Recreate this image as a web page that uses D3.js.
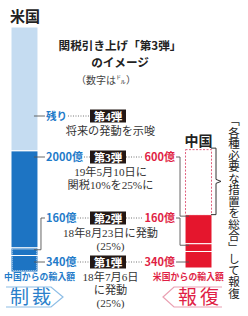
<!DOCTYPE html>
<html>
<head>
<meta charset="utf-8">
<script src="https://cdn.jsdelivr.net/npm/d3@7"></script>
<style>
body { margin: 0; background: #fff; }
text { font-family: "Noto Sans CJK JP", sans-serif; }
.serif { font-family: "Liberation Serif", "Noto Sans CJK JP", serif; }
</style>
</head>
<body>
<div id="chart"></div>
<script>
// values in 億ドル, bottom to top
let stages = ["第1弾", "第2弾", "第3弾", "第4弾"];
let usValues = [340, 160, 2000, 2550];
let cnValues = [340, 160, 600, 1350];
let usLabels = ["340億", "160億", "2000億", "残り"];
let cnLabels = ["340億", "160億", "600億"];
let notes = [
  ["18年7月6日", "に発動", "(25%)"],
  ["18年8月23日に発動", "(25%)"],
  ["19年5月10日に", "関税10%を25%に"],
  ["将来の発動を示唆"]
];
let titleLines = ["関税引き上げ「第3弾」", "のイメージ"];
let columns = ["米国", "説明", "中国"];

let svgWidth = 248;
let svgHeight = 316;
let blue = "#1d74c3", lightBlue = "#c5dcf1", red = "#e5162d";
let blueText = "#1f7bc9", redText = "#e01f45";

let svg = d3.select("#chart")
  .append("svg")
  .attr("width", svgWidth)
  .attr("height", svgHeight);

// one band per column, middle band holds the stage notes
let xBandScale = d3.scaleBand()
  .domain(columns)
  .range([11, 212])
  .paddingInner(0.69)
  .paddingOuter(0);
let bw = xBandScale.bandwidth();
let usY = d3.scaleLinear().domain([0, 5050]).range([272, 27]);
let cnY = usY.copy().range([268, 23]);

// row centre for each stage
let rowY = [262, 218, 157, 116];

function stack(values) {
  let ends = d3.cumsum(values);
  return values.map((v, i) => ({ v: v, i: i, y0: ends[i] - v, y1: ends[i] }));
}
let usSegs = stack(usValues);
let cnSegs = stack(cnValues);

// titles
svg.append("text").attr("x", 10).attr("y", 22)
  .attr("font-size", 15).attr("font-weight", 700).attr("fill", "#222").text("米国");
svg.append("text").attr("x", xBandScale("中国") + bw / 2).attr("y", 146)
  .attr("text-anchor", "middle")
  .attr("font-size", 14).attr("font-weight", 700).attr("fill", "#222").text("中国");
svg.selectAll(".title")
  .data(titleLines)
  .enter()
  .append("text")
  .attr("class", "title")
  .attr("x", 120)
  .attr("y", (d, i) => i == 0 ? 50 : 67)
  .attr("text-anchor", "middle")
  .attr("font-size", 11.6).attr("font-weight", 700).attr("fill", "#222")
  .text(d => d);
svg.append("text").attr("x", 106).attr("y", 84).attr("text-anchor", "middle")
  .attr("font-size", 10).attr("fill", "#444").text("（数字は㌦）");

// us bar
let usX = xBandScale("米国");
svg.selectAll(".us")
  .data(usSegs)
  .enter()
  .append("rect")
  .attr("class", "us")
  .attr("x", usX)
  .attr("width", bw)
  .attr("y", d => usY(d.y1))
  .attr("height", d => usY(d.y0) - usY(d.y1))
  .attr("fill", d => d.i == 3 ? lightBlue : blue)
  .attr("stroke", "#fff")
  .attr("stroke-width", 1);
// dotted inner border on the two rounds already in force
svg.append("rect")
  .attr("x", usX + 1.5).attr("width", bw - 3)
  .attr("y", usY(usSegs[1].y1) + 1.5)
  .attr("height", usY(0) - usY(usSegs[1].y1) - 3)
  .attr("fill", "none").attr("stroke", "rgba(255,255,255,0.85)")
  .attr("stroke-width", 0.8).attr("stroke-dasharray", "1,1");

// china bar
let cnX = xBandScale("中国");
svg.selectAll(".cn")
  .data(cnSegs.slice().reverse())
  .enter()
  .append("rect")
  .attr("class", "cn")
  .attr("x", d => d.i == 3 ? cnX + 0.5 : cnX)
  .attr("width", d => d.i == 3 ? bw - 1 : bw)
  .attr("y", d => cnY(d.y1) + (d.i == 3 ? 0.5 : 0))
  .attr("height", d => cnY(d.y0) - cnY(d.y1))
  .attr("fill", d => d.i == 3 ? "#fff" : red)
  .attr("stroke", d => d.i == 3 ? "#e0607e" : "#fff")
  .attr("stroke-width", 1)
  .attr("stroke-dasharray", d => d.i == 3 ? "2,1.5" : null);

// stage boxes and notes
let boxCx = xBandScale("説明") + bw / 2 - 3.5;
let noteCx = boxCx + 2.5;
stages.forEach((s, i) => {
  svg.append("rect").attr("x", boxCx - 18).attr("y", rowY[i] - 6.5)
    .attr("width", 36).attr("height", 13).attr("fill", "#231815");
  svg.append("text").attr("class", "serif").attr("x", boxCx).attr("y", rowY[i] + 4.5)
    .attr("text-anchor", "middle").attr("font-size", 11.5).attr("font-weight", 700)
    .attr("fill", "#fff").text(s);
  notes[i].forEach((line, j) => {
    svg.append("text").attr("class", "serif").attr("x", noteCx)
      .attr("y", rowY[i] + 19 + j * 13)
      .attr("text-anchor", "middle").attr("font-size", 11.2)
      .attr("fill", "#333").text(line);
  });
});

let leaderColor = "#555";
function dotted(x1, x2, y) {
  svg.append("line").attr("x1", x1).attr("x2", x2).attr("y1", y).attr("y2", y)
    .attr("stroke", "#666").attr("stroke-width", 0.9).attr("stroke-dasharray", "1,1.5");
}

// us labels with leaders
usSegs.forEach((s, i) => {
  let top = usY(s.y1), bottom = usY(s.y0), row = rowY[i];
  let entry = (row >= top && row <= bottom) ? row : top + 2;
  let barRight = usX + bw, elbow = barRight + 3;
  svg.append("path")
    .attr("d", `M${barRight - 4},${entry}H${elbow}V${row}H${barRight + 7}`)
    .attr("fill", "none").attr("stroke", leaderColor).attr("stroke-width", 0.9);
  let t = svg.append("text").attr("x", barRight + 8).attr("y", row + 4)
    .attr("font-size", i == 3 ? 10.5 : 11).attr("font-weight", 700)
    .attr("fill", blueText).text(usLabels[i]);
  let end = barRight + 8 + t.node().getComputedTextLength();
  dotted(end + 1, boxCx - 18, row);
});

// china labels with leaders
cnLabels.forEach((label, i) => {
  let s = cnSegs[i];
  let top = cnY(s.y1), bottom = cnY(s.y0), row = rowY[i];
  let entry = (row >= top && row <= bottom) ? row : top + 1.5;
  let elbow = cnX - 5;
  svg.append("path")
    .attr("d", `M${cnX - 9},${row}H${elbow}V${entry}H${cnX + 4}`)
    .attr("fill", "none").attr("stroke", leaderColor).attr("stroke-width", 0.9);
  let t = svg.append("text").attr("x", cnX - 10).attr("y", row + 4)
    .attr("text-anchor", "end").attr("font-size", 11).attr("font-weight", 700)
    .attr("fill", redText).text(label);
  let start = cnX - 10 - t.node().getComputedTextLength();
  dotted(boxCx + 18, start - 1, row);
});

// bracket beside the unused part of china's bar
let bTop = cnY(cnSegs[3].y1) - 1, bBottom = cnY(cnSegs[3].y0);
let bMid = (bTop + bBottom) / 2;
svg.append("path")
  .attr("d", `M${cnX + bw - 1},${bTop}H${cnX + bw + 4}V${bMid - 2}L${cnX + bw + 9},${bMid}L${cnX + bw + 4},${bMid + 2}V${bBottom}H${cnX + bw - 1}`)
  .attr("fill", "none").attr("stroke", "#333").attr("stroke-width", 1);
svg.append("text").attr("x", 234).attr("y", 115)
  .style("writing-mode", "vertical-rl")
  .attr("font-size", 11.5).attr("fill", "#222")
  .text("「各種必要な措置を総合」して報復");

// import captions
svg.append("text").attr("x", 4).attr("y", 280)
  .attr("font-size", 8.8).attr("font-weight", 700).attr("fill", blueText)
  .attr("letter-spacing", 0.1).text("中国からの輸入額");
svg.append("text").attr("x", 224).attr("y", 280).attr("text-anchor", "end")
  .attr("font-size", 8.8).attr("font-weight", 700).attr("fill", redText)
  .attr("letter-spacing", 0.1).text("米国からの輸入額");

// arrow tags
svg.append("path").attr("d", "M6,287H51L63,297L51,307H6")
  .attr("fill", "none").attr("stroke", "#8dbde6").attr("stroke-width", 1.2);
svg.append("text").attr("x", 10).attr("y", 304)
  .attr("font-size", 19).attr("fill", "#2a7fcb").attr("letter-spacing", 3).text("制裁");
svg.append("path").attr("d", "M222,287H174L163,297L174,307H222")
  .attr("fill", "none").attr("stroke", "#eaa0b2").attr("stroke-width", 1.2);
svg.append("text").attr("x", 200).attr("y", 304).attr("text-anchor", "middle")
  .attr("font-size", 19).attr("fill", redText).attr("letter-spacing", 3).text("報復");
</script>
</body>
</html>
